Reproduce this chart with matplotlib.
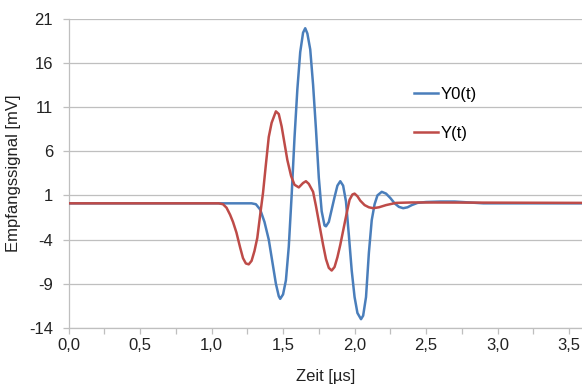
import matplotlib
matplotlib.use("Agg")
import matplotlib.pyplot as plt

plt.rcParams['font.family'] = ['Liberation Sans', 'DejaVu Sans']
plt.rcParams['axes.unicode_minus'] = False

# Y0(t) - blue signal
t_y0 = [0.0, 1.28, 1.31, 1.34, 1.37, 1.40, 1.43, 1.45, 1.47, 1.48, 1.50, 1.52, 1.54, 1.56,
        1.58, 1.60, 1.62, 1.64, 1.655, 1.67, 1.69, 1.71, 1.73, 1.75, 1.77, 1.79, 1.80,
        1.82, 1.84, 1.86, 1.88, 1.90, 1.92, 1.94, 1.96, 1.98, 2.00, 2.02, 2.045, 2.06,
        2.08, 2.10, 2.12, 2.14, 2.16, 2.19, 2.22, 2.25, 2.28, 2.31, 2.34, 2.37, 2.40,
        2.44, 2.50, 2.60, 2.70, 2.80, 2.90, 3.60]
v_y0 = [0.1, 0.1, 0.0, -0.6, -2.0, -4.0, -7.0, -9.0, -10.4, -10.7, -10.2, -8.6, -4.8, 1.0,
        7.5, 13.0, 17.2, 19.4, 19.9, 19.3, 17.5, 13.5, 8.5, 3.0, -0.8, -2.4, -2.5,
        -2.0, -0.6, 0.8, 2.1, 2.6, 2.1, 0.3, -3.5, -7.5, -10.5, -12.3, -13.0, -12.6,
        -10.5, -5.5, -1.8, 0.0, 1.0, 1.4, 1.2, 0.7, 0.1, -0.3, -0.45, -0.35, -0.1,
        0.15, 0.25, 0.3, 0.3, 0.2, 0.1, 0.1]

# Y(t) - red signal
t_y = [0.0, 1.05, 1.08, 1.105, 1.13, 1.15, 1.174, 1.20, 1.22, 1.24, 1.26, 1.28, 1.30, 1.32,
       1.34, 1.36, 1.38, 1.40, 1.42, 1.45, 1.47, 1.49, 1.51, 1.53, 1.556, 1.58, 1.61,
       1.64, 1.66, 1.68, 1.71, 1.73, 1.756, 1.78, 1.80, 1.82, 1.84, 1.86, 1.88, 1.90,
       1.92, 1.945, 1.965, 1.985, 2.00, 2.02, 2.04, 2.07, 2.10, 2.13, 2.17, 2.22, 2.29,
       2.40, 3.60]
v_y = [0.1, 0.1, 0.0, -0.4, -1.2, -2.0, -3.2, -4.9, -6.1, -6.7, -6.8, -6.4, -5.3, -3.8,
       -1.2, 1.3, 4.5, 7.6, 9.2, 10.5, 10.2, 8.8, 6.9, 5.0, 3.2, 2.2, 1.9,
       2.4, 2.6, 2.3, 1.4, -0.2, -2.5, -4.6, -6.2, -7.2, -7.5, -7.1, -6.0, -4.6,
       -3.0, -1.0, 0.5, 1.1, 1.2, 0.9, 0.4, -0.1, -0.35, -0.45, -0.35, -0.1, 0.15,
       0.2, 0.15]

x_ticks = [0.0, 0.5, 1.0, 1.5, 2.0, 2.5, 3.0, 3.5]
x_labels = ["0,0", "0,5", "1,0", "1,5", "2,0", "2,5", "3,0", "3,5"]
y_ticks = [-14, -9, -4, 1, 6, 11, 16, 21]

fig = plt.figure(figsize=(5.82, 3.88), dpi=100)
ax = fig.add_axes([0.1177, 0.1546, 0.8823, 0.7977])

ax.plot(t_y0, v_y0, color="#4A7EBB", lw=1.8, label="Y0(t)", zorder=3)
ax.plot(t_y, v_y, color="#BE4B48", lw=1.8, label="Y(t)", zorder=4)

ax.set_xlim(0, 3.59)
ax.set_ylim(-14, 21)
ax.set_yticks(y_ticks)
ax.set_xticks(x_ticks)
ax.set_xticklabels(x_labels)
ax.set_xticks([0.25, 0.75, 1.25, 1.75, 2.25, 2.75, 3.25], minor=True)

ax.yaxis.grid(True, color="#BFBFBF", lw=0.9)
ax.set_axisbelow(True)
for s in ["top", "right"]:
    ax.spines[s].set_visible(False)
for s in ["left", "bottom"]:
    ax.spines[s].set_color("#BFBFBF")
    ax.spines[s].set_linewidth(0.9)

ax.tick_params(axis="both", which="both", color="#BFBFBF", labelsize=12,
               labelcolor="#222222", length=4, width=0.9)
ax.tick_params(axis="x", pad=3)
ax.tick_params(axis="y", pad=7)

ax.set_xlabel("Zeit [µs]", fontsize=12, color="#222222", labelpad=12)
ax.set_ylabel("Empfangssignal [mV]", fontsize=12, color="#222222", labelpad=6)

ax.legend(loc="upper left", bbox_to_anchor=(0.673, 0.78), frameon=False, fontsize=12,
          labelspacing=1.45, handlelength=1.45, handletextpad=0.12, borderpad=0,
          borderaxespad=0)

fig.savefig("out.png", dpi=100)
